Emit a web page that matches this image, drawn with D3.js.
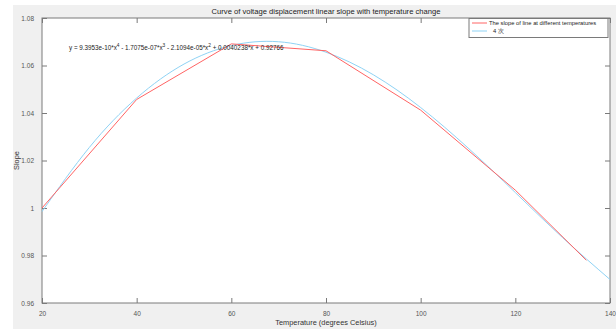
<!DOCTYPE html>
<html>
<head>
<meta charset="utf-8">
<script src="https://cdn.jsdelivr.net/npm/d3@7"></script>
<style>
  body { margin: 0; background: #fff; }
  svg text { font-family: "Liberation Sans", Arial, sans-serif; }
</style>
</head>
<body>
<div id="chart"></div>
<script>
// measured slopes (red)
const temps = [20, 40, 60, 80, 100, 120, 135];
const slopes = [1.0, 1.0457, 1.0691, 1.0662, 1.0412, 1.0075, 0.978];
// 4th order fit (cyan)
const fitTemps = [20, 30, 40, 50, 60, 70, 80, 90, 100, 110, 120, 130, 140];
const fitSlopes = [0.9985, 1.0255, 1.0463, 1.0606, 1.0684, 1.0700, 1.0656, 1.0561, 1.0423, 1.0253, 1.0065, 0.9875, 0.9699];
const xTicks = [20, 40, 60, 80, 100, 120, 140];
const yTicks = [0.96, 0.98, 1, 1.02, 1.04, 1.06, 1.08];
const legendLabels = ["The slope of line at different temperatures", "4 次"];

const W = 616, H = 329;
const m = {left: 42, right: 6, top: 18, bottom: 26};

const svg = d3.select("#chart").append("svg")
    .attr("width", W)
    .attr("height", H);

// figure panel
svg.append("rect")
    .attr("x", 13).attr("y", 5)
    .attr("width", W - 13).attr("height", H - 5)
    .attr("fill", "#f0f0f0");

const x = d3.scaleLinear().domain([20, 140]).range([m.left, W - m.right]);
const y = d3.scaleLinear().domain([0.96, 1.08]).range([H - m.bottom, m.top]);

svg.append("rect")
    .attr("x", x(20)).attr("y", y(1.08))
    .attr("width", x(140) - x(20)).attr("height", y(0.96) - y(1.08))
    .attr("fill", "#fff");

const tickLen = 5;
const axisColor = "#7a7a7a";

function styleAxis(g, hideText) {
    g.select(".domain").remove();
    g.selectAll(".tick line").attr("stroke", axisColor);
    g.selectAll(".tick text")
        .attr("fill", "#555")
        .style("font-size", "6.5px");
    if (hideText) g.selectAll(".tick text").remove();
}

svg.append("g")
    .attr("transform", `translate(0,${y(0.96)})`)
    .call(d3.axisBottom(x).tickValues(xTicks).tickSizeInner(-tickLen).tickSizeOuter(0).tickPadding(8))
    .call(g => styleAxis(g, false));
svg.append("g")
    .attr("transform", `translate(0,${y(1.08)})`)
    .call(d3.axisTop(x).tickValues(xTicks).tickSizeInner(-tickLen).tickSizeOuter(0))
    .call(g => styleAxis(g, true));
svg.append("g")
    .attr("transform", `translate(${x(20)},0)`)
    .call(d3.axisLeft(y).tickValues(yTicks).tickSizeInner(-tickLen).tickSizeOuter(0).tickPadding(8)
        .tickFormat(d => d3.format("")(+d.toFixed(2))))
    .call(g => styleAxis(g, false));
svg.append("g")
    .attr("transform", `translate(${x(140)},0)`)
    .call(d3.axisRight(y).tickValues(yTicks).tickSizeInner(-tickLen).tickSizeOuter(0))
    .call(g => styleAxis(g, true));

// box
svg.append("rect")
    .attr("x", x(20)).attr("y", y(1.08))
    .attr("width", x(140) - x(20)).attr("height", y(0.96) - y(1.08))
    .attr("fill", "none")
    .attr("stroke", axisColor)
    .attr("stroke-width", 1);

const red = "#ff6464", cyan = "#8fd3f5";

const fitLine = d3.line()
    .x((d, i) => x(fitTemps[i]))
    .y(d => y(d))
    .curve(d3.curveNatural);
svg.append("path")
    .datum(fitSlopes)
    .attr("d", fitLine)
    .attr("fill", "none")
    .attr("stroke", cyan)
    .attr("stroke-width", 1);

const slopeLine = d3.line()
    .x((d, i) => x(temps[i]))
    .y(d => y(d));
svg.append("path")
    .datum(slopes)
    .attr("d", slopeLine)
    .attr("fill", "none")
    .attr("stroke", red)
    .attr("stroke-width", 1);

// equation (superscripts via dy)
const eq = svg.append("text")
    .attr("x", 69).attr("y", 50)
    .attr("fill", "#222")
    .style("font-size", "6.3px");
const parts = [
    ["y = 9.3953e-10*x", "4"], [" - 1.7075e-07*x", "3"], [" - 2.1094e-05*x", "2"],
    [" + 0.0040238*x + 0.92766", null]
];
let shift = 0;
parts.forEach(([t, sup]) => {
    eq.append("tspan").attr("dy", -shift).text(t);
    shift = 0;
    if (sup) {
        eq.append("tspan").attr("dy", -3).style("font-size", "4.8px").text(sup);
        shift = -3;
    }
});

// title + labels
svg.append("text")
    .attr("x", (x(20) + x(140)) / 2).attr("y", 14)
    .attr("text-anchor", "middle")
    .attr("fill", "#222")
    .style("font-size", "7.6px")
    .text("Curve of voltage displacement linear slope with temperature change");
svg.append("text")
    .attr("x", (x(20) + x(140)) / 2).attr("y", 325)
    .attr("text-anchor", "middle")
    .attr("fill", "#333")
    .style("font-size", "7.4px")
    .text("Temperature (degrees Celsius)");
svg.append("text")
    .attr("transform", `translate(19,${(y(0.96) + y(1.08)) / 2}) rotate(-90)`)
    .attr("text-anchor", "middle")
    .attr("fill", "#333")
    .style("font-size", "7.4px")
    .text("Slope");

// legend
const lg = svg.append("g").attr("transform", "translate(469,18.5)");
lg.append("rect")
    .attr("width", 139).attr("height", 19)
    .attr("fill", "#fff")
    .attr("stroke", axisColor);
[red, cyan].forEach((c, i) => {
    lg.append("line")
        .attr("x1", 3).attr("x2", 18)
        .attr("y1", 4.5 + i * 8).attr("y2", 4.5 + i * 8)
        .attr("stroke", c);
    lg.append("text")
        .attr("x", i === 0 ? 20 : 24).attr("y", 6.8 + i * 8)
        .attr("fill", "#222")
        .style("font-size", "5.8px")
        .text(legendLabels[i]);
});
</script>
</body>
</html>
